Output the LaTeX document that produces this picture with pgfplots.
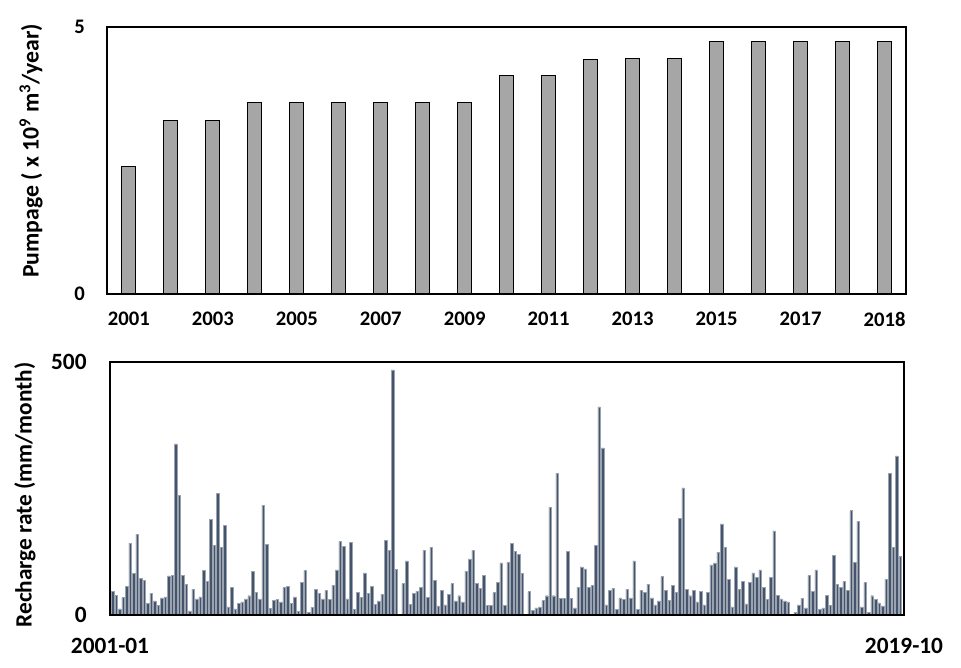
\documentclass[border=0pt]{standalone}
\usepackage{fontspec}
\setmainfont{Carlito}
\usepackage{pgfplots}
\usepackage{pgfplotstable}
\pgfplotsset{compat=1.18}

\definecolor{pumpgray}{HTML}{A6A6A6}
\definecolor{rechblue}{HTML}{44546A}
\definecolor{rechedge}{HTML}{9AA3AF}

% annual pumpage, bars at 0..18
\pgfplotstableread{
yr val
0 2.38
1 3.25
2 3.25
3 3.59
4 3.59
5 3.59
6 3.59
7 3.59
8 3.59
9 4.10
10 4.10
11 4.39
12 4.41
13 4.41
14 4.72
15 4.72
16 4.72
17 4.72
18 4.72
}\pumpage

% monthly recharge, 2001-01 .. 2019-10
\pgfplotstableread{
m r
1 47
2 39
3 12
4 35
5 57
6 142
7 82
8 159
9 72
10 68
11 23
12 43
13 28
14 19
15 34
16 36
17 77
18 78
19 338
20 236
21 78
22 61
23 8
24 51
25 32
26 36
27 88
28 66
29 189
30 137
31 240
32 134
33 177
34 16
35 55
36 12
37 23
38 26
39 32
40 38
41 86
42 45
43 32
44 217
45 140
46 13
47 29
48 31
49 26
50 54
51 57
52 23
53 36
54 7
55 65
56 88
57 5
58 15
59 51
60 43
61 32
62 49
63 31
64 59
65 89
66 145
67 136
68 32
69 143
70 11
71 45
72 35
73 83
74 42
75 57
76 21
77 28
78 41
79 147
80 127
81 484
82 90
83 0
84 62
85 107
86 21
87 43
88 47
89 55
90 127
91 35
92 134
93 68
94 18
95 49
96 20
97 41
98 62
99 28
100 38
101 26
102 86
103 111
104 128
105 62
106 52
107 78
108 19
109 19
110 44
111 65
112 103
113 19
114 104
115 141
116 125
117 119
118 82
119 0
120 46
121 9
122 14
123 16
124 29
125 38
126 213
127 38
128 280
129 33
130 33
131 126
132 33
133 14
134 54
135 95
136 91
137 54
138 58
139 138
140 411
141 330
142 20
143 49
144 53
145 11
146 34
147 31
148 51
149 34
150 107
151 11
152 49
153 45
154 61
155 34
156 20
157 28
158 76
159 48
160 29
161 59
162 45
163 191
164 251
165 51
166 38
167 49
168 26
169 47
170 20
171 45
172 99
173 103
174 124
175 180
176 134
177 70
178 16
179 95
180 50
181 67
182 22
183 65
184 83
185 75
186 89
187 54
188 31
189 74
190 166
191 39
192 32
193 28
194 26
195 0
196 5
197 20
198 33
199 14
200 78
201 47
202 89
203 11
204 14
205 39
206 19
207 117
208 61
209 54
210 66
211 48
212 206
213 104
214 185
215 16
216 64
217 5
218 38
219 31
220 24
221 18
222 71
223 280
224 134
225 314
226 116
}\recharge

\begin{document}
\begin{tikzpicture}
\path[use as bounding box] (0pt,0pt) rectangle (720.75pt,501pt);

% top: pumpage
\begin{axis}[
  at={(80.25pt,280.5pt)}, anchor=south west,
  scale only axis, width=599.25pt, height=200.25pt,
  axis on top,
  ybar, bar width=10.3pt,
  xmin=-0.52, xmax=18.51,
  ymin=0, ymax=5,
  ytick={0,5},
  xtick={0,2,...,16,18},
  xticklabels={2001,2003,2005,2007,2009,2011,2013,2015,2017,2018},
  major tick length=0pt,
  axis line style={line width=1.5pt},
  /pgf/number format/assume math mode=true,
  tick label style={font=\bfseries\fontsize{15.5}{18}\selectfont},
  yticklabel style={xshift=-13pt},
  xticklabel style={yshift=-10pt},
  ylabel={Pumpage ( x 10\textsuperscript{9} m\textsuperscript{3}/year)},
  ylabel style={font=\bfseries\fontsize{17.8}{20}\selectfont,
    at={(axis description cs:-0.095,0.536)}, anchor=center},
]
\addplot[fill=pumpgray, draw=black, line width=0.75pt] table[x=yr, y=val] {\pumpage};
\end{axis}

% bottom: recharge
\begin{axis}[
  at={(82.5pt,39.75pt)}, anchor=south west,
  scale only axis, width=595.5pt, height=190pt,
  axis on top,
  ybar, bar width=1.9pt,
  xmin=0.25, xmax=227.1,
  ymin=0, ymax=500,
  ytick={0,500},
  xtick={0.25,227.1},
  xticklabels={2001-01,2019-10},
  major tick length=0pt,
  axis line style={line width=1.5pt},
  /pgf/number format/assume math mode=true,
  tick label style={font=\bfseries\fontsize{17.5}{20}\selectfont},
  yticklabel style={xshift=-14pt},
  xticklabel style={yshift=-14pt},
  ylabel={Recharge rate (mm/month)},
  ylabel style={font=\bfseries\fontsize{17.5}{20}\selectfont,
    at={(axis description cs:-0.107,0.474)}, anchor=center},
]
\addplot[fill=rechblue, draw=rechedge, line width=0.35pt] table[x=m, y=r] {\recharge};
\end{axis}
\end{tikzpicture}
\end{document}
